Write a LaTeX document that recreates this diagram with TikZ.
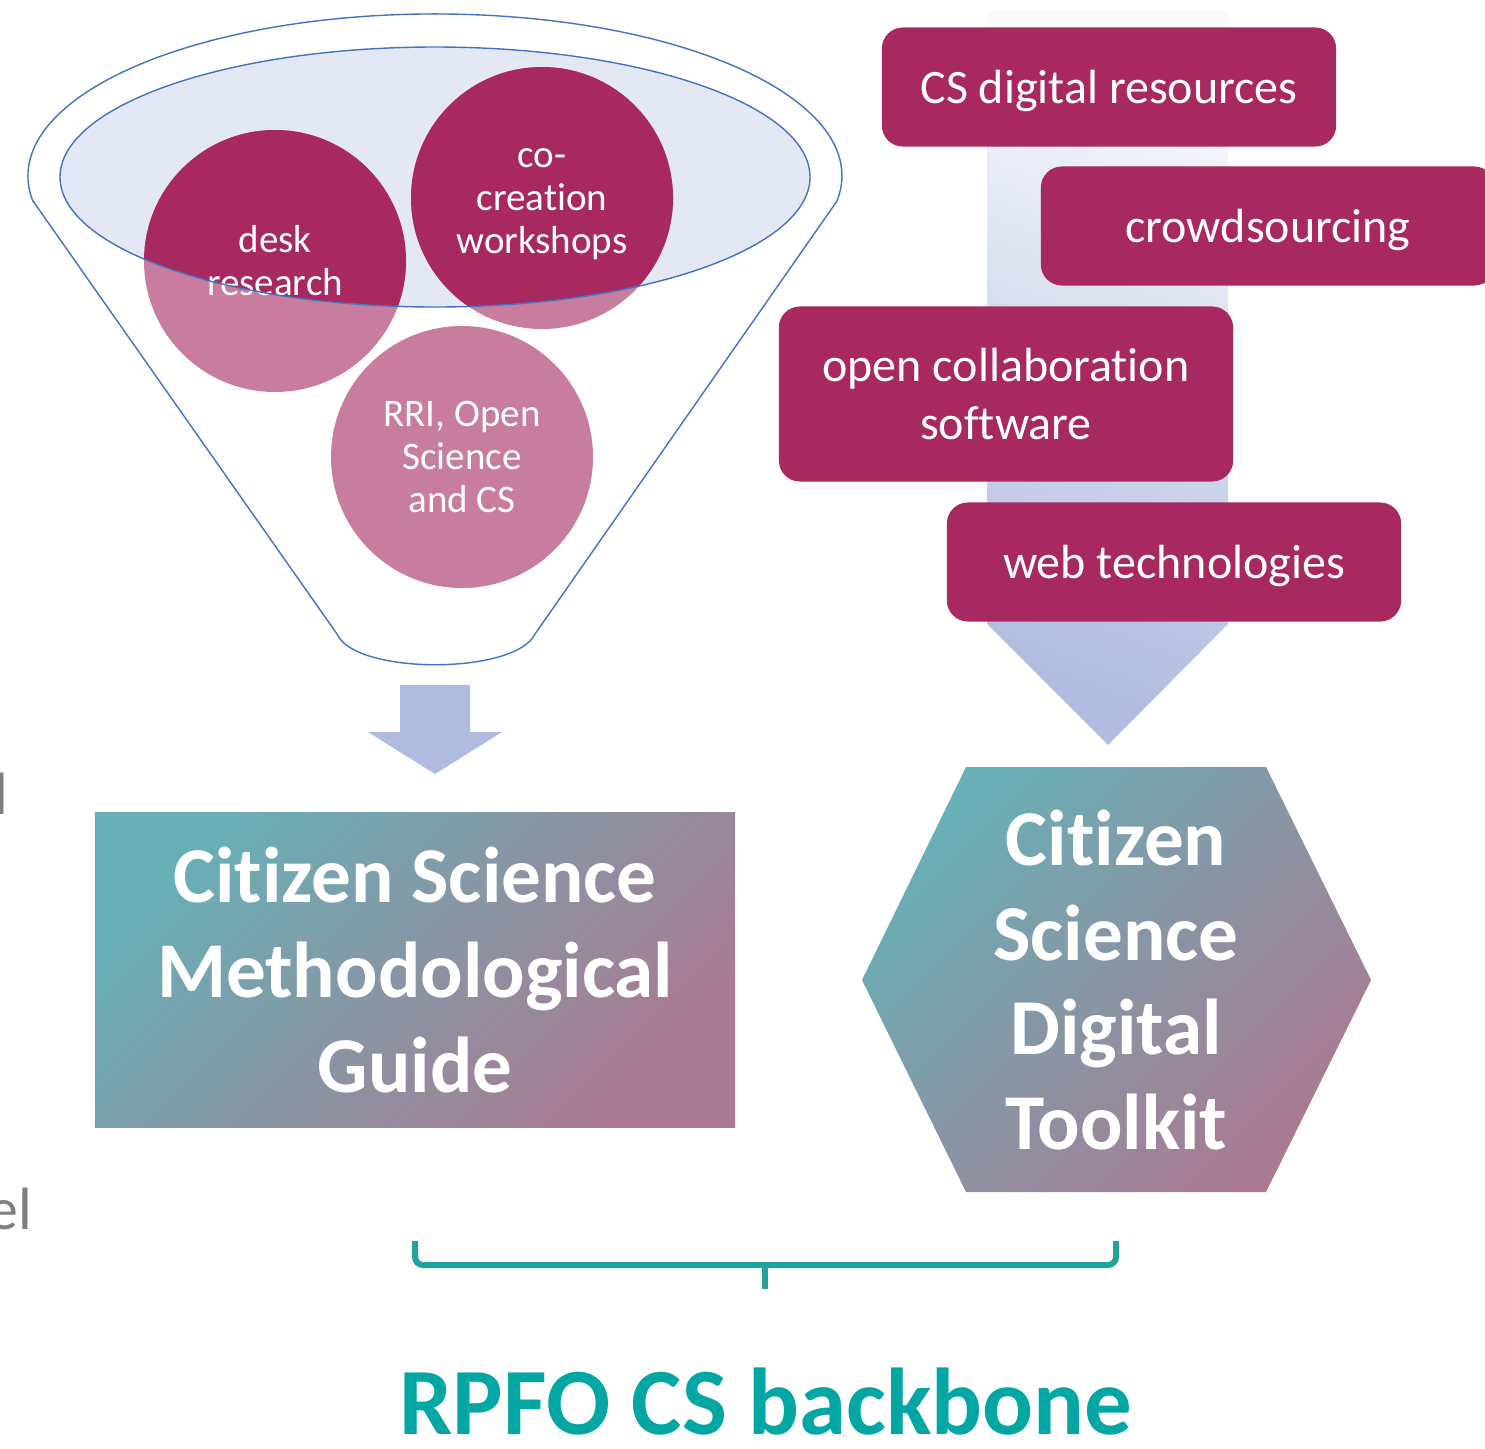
\documentclass[tikz,border=0pt]{standalone}
\usepackage{fontspec}
\setmainfont{Carlito}[Ligatures=NoCommon]
\definecolor{berry}{HTML}{A8295F}
\definecolor{lightberry}{HTML}{C87C9E}
\definecolor{funnelfill}{HTML}{E3E8F4}
\definecolor{funnelline}{HTML}{4472C4}
\definecolor{arrowblue}{HTML}{AFBCDF}
\definecolor{gradteal}{HTML}{68AFB6}
\definecolor{gradmauve}{HTML}{AA7A92}
\definecolor{backbone}{HTML}{02A7A4}
\definecolor{bracecol}{HTML}{22A29F}
\definecolor{fragment}{HTML}{7F7F7F}
\begin{document}
\begin{tikzpicture}[x=0.01cm,y=-0.01cm,
  bubbletext/.style={text=white,align=center,font=\fontsize{11.1}{12.2}\selectfont},
  tool/.style={rectangle,rounded corners=0.21cm,fill=berry,text=white,align=center,text depth=0pt,
    minimum width=4.54cm,minimum height=1.19cm,font=\fontsize{13.65}{16.5}\selectfont},
  bigtext/.style={text=white,align=center,font=\bfseries\fontsize{22.5}{27}\selectfont},
  blend/.style={top color=gradteal,bottom color=gradmauve,shading angle=45},
  bracket/.style={bracecol,line width=0.06cm,rounded corners=0.08cm},
  fragtext/.style={text=fragment,inner sep=0pt,anchor=base east,font=\fontsize{17}{20}\selectfont}]
\useasboundingbox (0,0) rectangle (1485,1448);
\clip (0,0) rectangle (1485,1448);
\draw[funnelline,fill=white] (33,201) -- (337,634) .. controls (355,675) and (515,675) .. (535,634)
  -- (837,201) arc[start angle=8.9,end angle=-188.9,x radius=407,y radius=162] -- cycle;
\fill[funnelfill] (435,177) ellipse[x radius=375,y radius=130];
\foreach \cx/\cy in {275/261,542/198,462/457}
  \fill[lightberry] (\cx,\cy) circle[radius=131];
\begin{scope}
\clip (435,177) ellipse[x radius=375,y radius=130];
\foreach \cx/\cy in {275/261,542/198}
  \fill[berry] (\cx,\cy) circle[radius=131];
\end{scope}
\node[bubbletext] (desk) at (275,261) {desk\\research};
\node[bubbletext] (cocreation) at (542,204) {co-\\creation\\workshops};
\node[bubbletext] (rri) at (462,457) {RRI, Open\\Science\\and CS};
\draw[funnelline] (435,177) ellipse[x radius=375,y radius=130];
\fill[arrowblue] (400,685) -- (470,685) -- (470,732) -- (502,732) -- (435,774) -- (368,732) -- (400,732) -- cycle;
\shade[top color=arrowblue!8,bottom color=arrowblue,shading angle=-20]
  (987,11) -- (1228,11) -- (1228,624) -- (1108,745) -- (987,624) -- cycle;
\node[tool] (digital) at (1109,87) {CS digital resources};
\node[tool] (crowd) at (1268,226) {crowdsourcing};
\node[tool,minimum height=1.75cm] (collab) at (1006,394) {open collaboration\\software};
\node[tool] (web) at (1174,562) {web technologies};
\node[bigtext,blend,minimum width=6.4cm,minimum height=3.15cm] (guide) at (415,970) {Citizen Science\\Methodological\\Guide};
\shade[blend] (862,980) -- (966,767) -- (1266,767) -- (1371,980) -- (1266,1192) -- (966,1192) -- cycle;
\node[bigtext] (toolkit) at (1116,980) {Citizen\\Science\\Digital\\Toolkit};
\coordinate (bl) at (415,1241);
\coordinate (br) at (1116,1241);
\coordinate (tip) at (765,1289);
\draw[bracket] (bl) -- (bl |- 0,1265) -- (br |- 0,1265) -- (br);
\draw[bracecol,line width=0.06cm] (tip |- 0,1264) -- (tip);
\node[text=backbone,anchor=base,inner sep=0pt,font=\bfseries\fontsize{27}{32}\selectfont] (backbone) at (766,1434) {RPFO CS backbone};
\node[fragtext] (fraga) at (9,814) {l};
\node[fragtext] (fragb) at (33,1229) {el};
\end{tikzpicture}
\end{document}
